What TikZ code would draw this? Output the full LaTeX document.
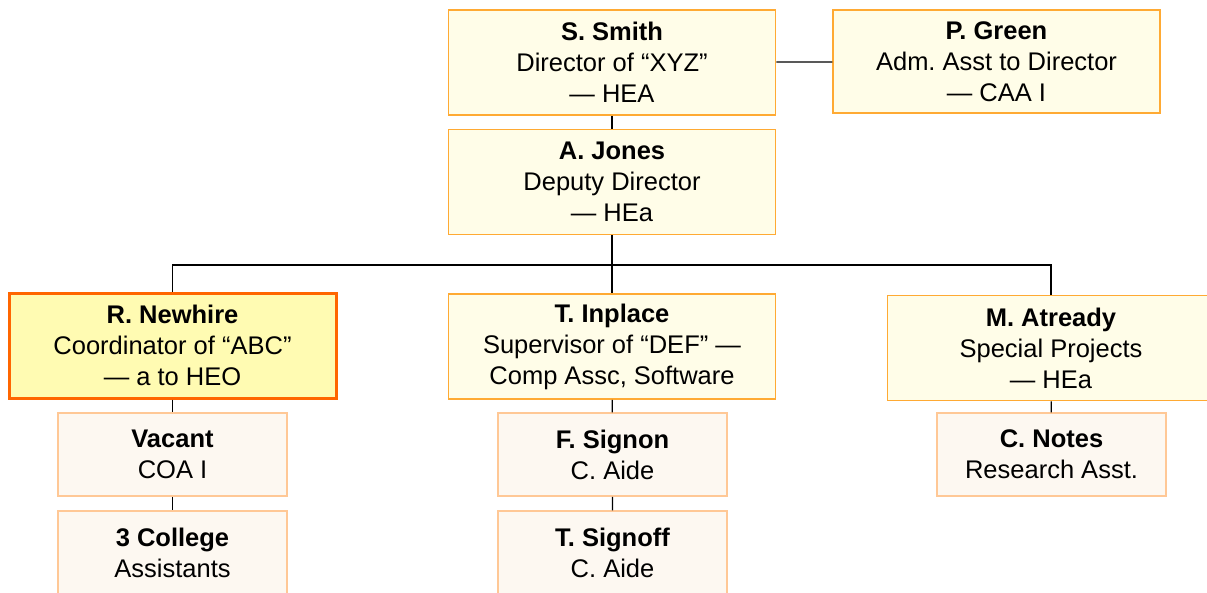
\documentclass[tikz,border=0pt]{standalone}
\usepackage{fontspec}
\setmainfont{Liberation Sans}
\frenchspacing
\usetikzlibrary{positioning}

\definecolor{headfill}{RGB}{255,253,232}
\definecolor{headline}{RGB}{255,170,51}
\definecolor{stafffill}{RGB}{253,248,241}
\definecolor{staffline}{RGB}{255,200,150}
\definecolor{newfill}{RGB}{255,251,178}
\definecolor{newline}{RGB}{255,102,0}

\begin{document}
\begin{tikzpicture}[x=1pt,y=1pt,node distance=98pt,on grid,
    font=\fontsize{25.5}{31}\selectfont]
		\tikzstyle{head}=[draw=headline,fill=headfill,line width=1.5pt,align=center,
			minimum width=327pt,minimum height=105pt,inner sep=0pt]
		\tikzstyle{staff}=[draw=staffline,fill=stafffill,line width=1.5pt,align=center,
			minimum width=229pt,minimum height=83pt,inner sep=0pt]
		\tikzstyle{newhead}=[head,draw=newline,fill=newfill,line width=3pt]
		\useasboundingbox (0,0) rectangle (1207,-592);
		\node[head] (smith) at (612,-62.5) {\textbf{S. Smith}\\Director of “XYZ”\\— HEA};
		\node[head,minimum height=103pt] (green) at (996.5,-61.5) {\textbf{P. Green}\\Adm. Asst to Director\\— CAA I};
		\node[head] (jones) at (612,-182) {\textbf{A. Jones}\\Deputy Director\\— HEa};
		\node[newhead] (newhire) at (172.5,-345.5) {\textbf{R. Newhire}\\Coordinator of “ABC”\\— a to HEO};
		\node[head] (inplace) at (612,-346.5) {\textbf{T. Inplace}\\Supervisor of “DEF” —\\Comp Assc, Software};
		\node[head] (atready) at (1051,-348) {\textbf{M. Atready}\\Special Projects\\— HEa};
		\node[staff] (vacant) at (172.5,-454.5) {\textbf{Vacant}\\COA I};
		\node[staff] (college) [below=of vacant] {\textbf{3 College}\\Assistants};
		\node[staff] (signon) at (612.5,-454.5) {\textbf{F. Signon}\\C. Aide};
		\node[staff] (signoff) [below=of signon] {\textbf{T. Signoff}\\C. Aide};
		\node[staff] (notes) at (1051.5,-454.5) {\textbf{C. Notes}\\Research Asst.};
		\coordinate (bus) at (612,-265);
		\begin{scope}[line width=1.2pt]
		\draw (smith) -- (green);
		\draw (smith) -- (jones);
		\draw (jones) -- (bus);
		\draw (newhire.north) |- (bus) -| (atready.north);
		\draw (bus) -- (inplace);
		\draw (newhire) -- (vacant) (vacant) -- (college);
		\draw (inplace) -- (signon) (signon) -- (signoff);
		\draw (atready) -- (notes);
		\end{scope}
	\end{tikzpicture}
\end{document}
